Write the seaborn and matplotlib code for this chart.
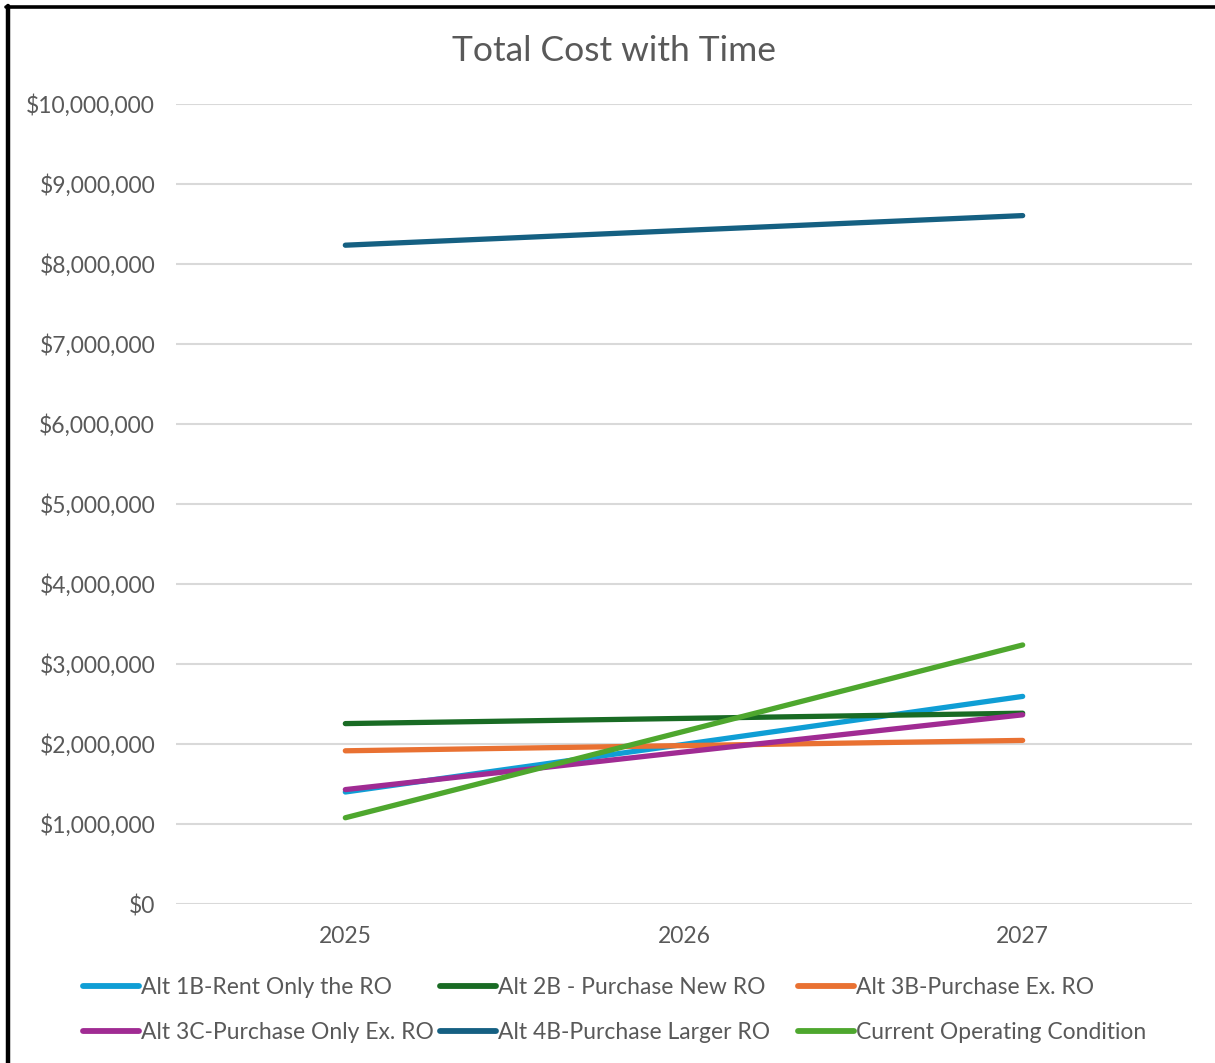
import matplotlib
matplotlib.use("Agg")
import matplotlib.pyplot as plt
from matplotlib.lines import Line2D
from matplotlib.ticker import FuncFormatter
import pandas as pd
import seaborn as sns

# Cost projections per alternative
years = ["2025", "2026", "2027"]
alt_1b = [1400000, 1995000, 2595000]
alt_2b = [2255000, 2320000, 2385000]
alt_3b = [1915000, 1980000, 2045000]
alt_3c = [1430000, 1900000, 2365000]
alt_4b = [8235000, 8420000, 8605000]
current = [1078000, 2158000, 3238000]

series_names = [
    "Alt 1B-Rent Only the RO",
    "Alt 2B - Purchase New RO",
    "Alt 3B-Purchase Ex. RO",
    "Alt 3C-Purchase Only Ex. RO",
    "Alt 4B-Purchase Larger RO",
    "Current Operating Condition",
]
series_values = [alt_1b, alt_2b, alt_3b, alt_3c, alt_4b, current]
colors = ["#0F9ED5", "#196B24", "#E97132", "#A02B93", "#156082", "#4EA72E"]

rows = []
for name, vals in zip(series_names, series_values):
    for yr, v in zip(years, vals):
        rows.append({"Year": yr, "Cost": v, "Series": name})
df = pd.DataFrame(rows)

sns.set_theme(style="white")
plt.rcParams["font.family"] = ["Lato", "DejaVu Sans"]
text_color = "#595959"

fig = plt.figure(figsize=(12.15, 10.63), dpi=100)
ax = fig.add_axes([176 / 1215, 1 - 904 / 1063, (1192 - 176) / 1215, 800 / 1063])

sns.lineplot(
    data=df, x="Year", y="Cost", hue="Series", hue_order=series_names,
    palette=colors, linewidth=3.8, sort=False, legend=False, ax=ax,
    solid_capstyle="round",
)

ax.set_xlim(-0.5, 2.5)
ax.set_ylim(0, 10000000)
ax.set_yticks(range(0, 10000001, 1000000))
ax.yaxis.set_major_formatter(FuncFormatter(lambda v, p: f"${v:,.0f}"))
ax.grid(axis="y", color="#D9D9D9", linewidth=1.5)
ax.grid(axis="x", visible=False)
ax.set_axisbelow(True)
for s in ax.spines.values():
    s.set_visible(False)
ax.set_xlabel("")
ax.set_ylabel("")
ax.tick_params(axis="y", length=0, pad=15, labelsize=16.5, labelcolor=text_color)
ax.tick_params(axis="x", length=0, pad=16, labelsize=16.5, labelcolor=text_color)

fig.text(614 / 1215, 1 - 51 / 1063, "Total Cost with Time", ha="center", va="center",
         fontsize=25.5, color=text_color)

# Legend: three columns, two rows, laid out left to right
col_x = [83, 440, 798]
for col in range(3):
    idx = [col, col + 3]
    hs = [Line2D([0], [0], color=colors[i], linewidth=4.2, solid_capstyle="round") for i in idx]
    fig.legend(
        hs, [series_names[i] for i in idx],
        loc="center left", bbox_to_anchor=(col_x[col] / 1215, 1 - 1010 / 1063),
        frameon=False, fontsize=16.5, handlelength=2.45, handletextpad=0.1,
        labelspacing=1.05, borderaxespad=0, borderpad=0,
        labelcolor=text_color,
    )

# Frame edges along the left and top
fig.add_artist(Line2D([8 / 1215, 8 / 1215], [0, 1 - 6 / 1063], transform=fig.transFigure,
                      color="black", linewidth=3.2))
fig.add_artist(Line2D([6 / 1215, 1], [1 - 7 / 1063, 1 - 7 / 1063], transform=fig.transFigure,
                      color="black", linewidth=2.6))

fig.savefig("out.png", dpi=100, facecolor="white")
